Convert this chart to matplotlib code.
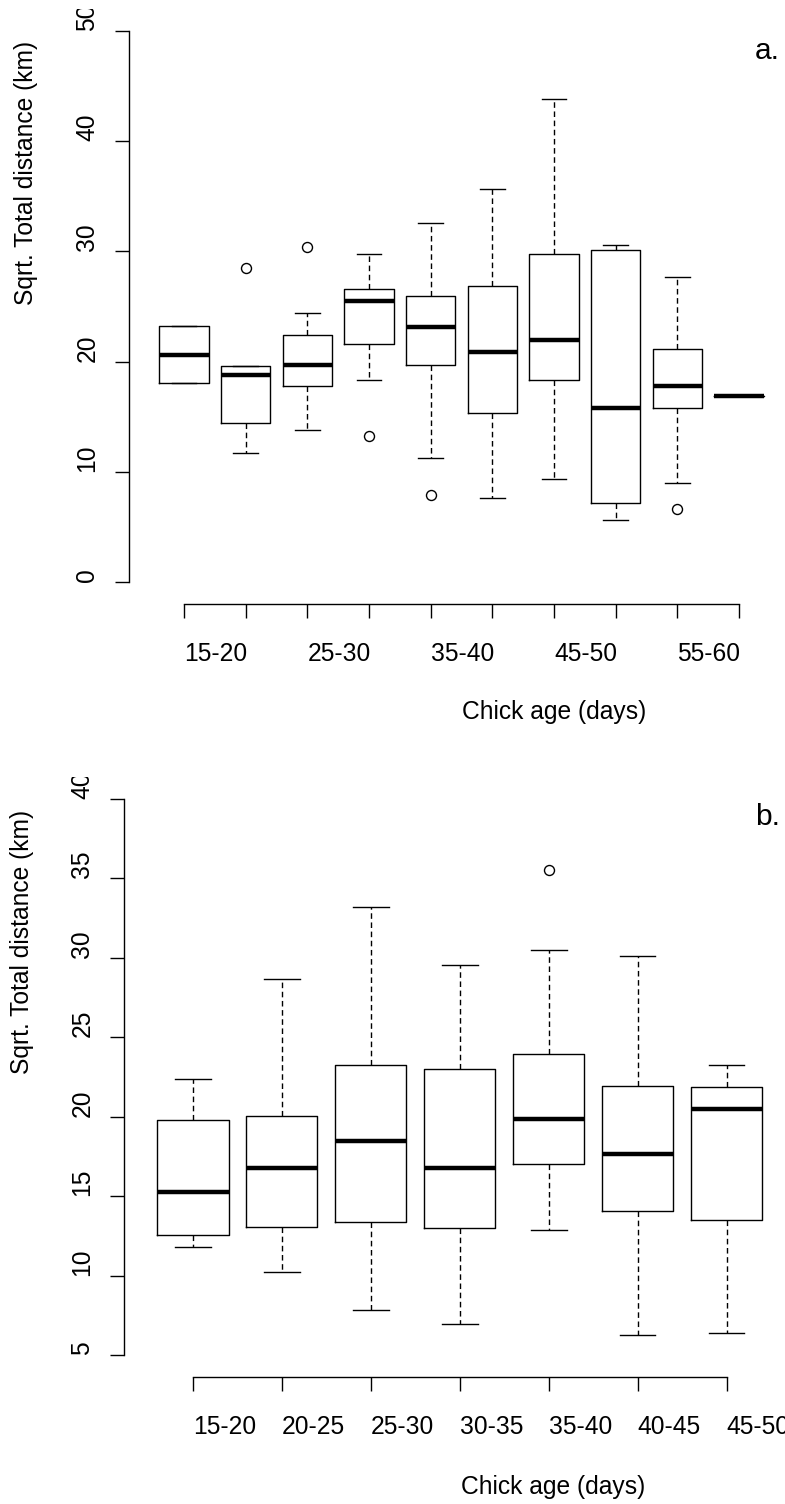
#!/usr/bin/env python3

import matplotlib
matplotlib.use('Agg')
import matplotlib.pyplot as plt
from matplotlib.transforms import Bbox, TransformedBbox

plt.rcParams['font.family'] = ['Liberation Sans', 'DejaVu Sans']

W, H = 785, 1504

# panel a: chick age groups (every other label is printed, as in R)
ages_a = ['15-20', '20-25', '25-30', '30-35', '35-40',
          '40-45', '45-50', '50-55', '55-60', '60-65']
whislo_a = [18.03, 11.73, 13.79, 18.36, 11.28, 7.62, 9.32, 5.63, 9.02, 16.9]
q1_a = [18.03, 14.40, 17.79, 21.60, 19.72, 15.37, 18.36, 7.20, 15.76, 16.9]
med_a = [20.57, 18.75, 19.72, 25.50, 23.11, 20.87, 21.99, 15.82, 17.76, 16.9]
q3_a = [23.26, 19.60, 22.39, 26.62, 25.92, 26.89, 29.73, 30.16, 21.14, 16.9]
whishi_a = [23.26, 19.60, 24.38, 29.73, 32.55, 35.63, 43.83, 30.58, 27.65, 16.9]
fliers_a = [[], [28.47], [30.43], [13.25], [7.89], [], [], [], [6.62], []]

# panel b
ages_b = ['15-20', '20-25', '25-30', '30-35', '35-40', '40-45', '45-50']
whislo_b = [11.82, 10.22, 7.83, 6.97, 12.88, 6.28, 6.39]
q1_b = [12.57, 13.07, 13.34, 12.99, 17.02, 14.06, 13.50]
med_b = [15.24, 16.80, 18.48, 16.80, 19.86, 17.63, 20.48]
q3_b = [19.77, 20.05, 23.23, 23.01, 23.92, 21.93, 21.85]
whishi_b = [22.35, 28.65, 33.22, 29.53, 30.49, 30.12, 23.23]
fliers_b = [[], [], [], [], [35.53], [], []]


def stats(lo, q1, med, q3, hi, fl):
    out = []
    for i in range(len(med)):
        out.append(dict(whislo=lo[i], q1=q1[i], med=med[i], q3=q3[i],
                        whishi=hi[i], fliers=fl[i]))
    return out


def panel(rect, st, labels, ylim, yticks, tag, tag_xy, xlab_xy, ylab_xy):
    ax = fig.add_axes([rect[0] / W, 1 - rect[3] / H,
                       (rect[2] - rect[0]) / W, (rect[3] - rect[1]) / H])
    n = len(st)
    pos = list(range(1, n + 1))
    ax.bxp(st, positions=pos, widths=0.8, capwidths=0.4, patch_artist=False,
           boxprops=dict(color='black', linewidth=1.0),
           whiskerprops=dict(color='black', linewidth=1.0,
                             linestyle=(0, (4, 2.6))),
           capprops=dict(color='black', linewidth=1.0),
           medianprops=dict(color='black', linewidth=3.2,
                            solid_capstyle='butt'),
           flierprops=dict(marker='o', markerfacecolor='none',
                           markeredgecolor='black', markersize=7.2,
                           markeredgewidth=1.0))
    span = n
    ax.set_xlim(0.5 - 0.04 * span, n + 0.5 + 0.04 * span)
    r = ylim[1] - ylim[0]
    ax.set_ylim(ylim[0] - 0.04 * r, ylim[1] + 0.04 * r)
    for s in ['top', 'right']:
        ax.spines[s].set_visible(False)
    ax.spines['left'].set_bounds(ylim[0], ylim[1])
    ax.spines['bottom'].set_bounds(1, n)
    for s in ['left', 'bottom']:
        ax.spines[s].set_linewidth(1.0)
    # labels start at the tick (R par(adj = 0))
    ax.set_xticks(pos)
    ax.set_xticklabels(labels, ha='left', fontsize=17.7)
    ax.set_yticks(yticks)
    ax.set_yticklabels([str(v) for v in yticks], fontsize=17.7,
                       rotation=90, va='bottom')
    ax.tick_params(axis='x', length=10, width=1.0, pad=17)
    ax.tick_params(axis='y', length=10, width=1.0, pad=11)
    clip = TransformedBbox(Bbox([[-1, 0], [2, 1]]), ax.transAxes)
    for t in ax.get_yticklabels():
        t.set_clip_on(True)
        t.set_clip_box(clip)
    fig.text(tag_xy[0] / W, 1 - tag_xy[1] / H, tag, fontsize=21.5,
             ha='center', va='center')
    fig.text(xlab_xy[0] / W, 1 - xlab_xy[1] / H, 'Chick age (days)',
             fontsize=17.7, ha='center', va='center')
    fig.text(ylab_xy[0] / W, 1 - ylab_xy[1] / H, 'Sqrt. Total distance (km)',
             fontsize=17.7, ha='center', va='center', rotation=90)
    return ax


fig = plt.figure(figsize=(W / 100, H / 100), dpi=100)

labels_a = [a if i % 2 == 0 else '' for i, a in enumerate(ages_a)]
panel((128.5, 9, 794.5, 604),
      stats(whislo_a, q1_a, med_a, q3_a, whishi_a, fliers_a),
      labels_a, (0, 50), [0, 10, 20, 30, 40, 50],
      'a.', (767, 51), (554, 712), (26, 173))

panel((123.6, 776.8, 796, 1377.2),
      stats(whislo_b, q1_b, med_b, q3_b, whishi_b, fliers_b),
      ages_b, (5, 40), [5, 10, 15, 20, 25, 30, 35, 40],
      'b.', (768, 817), (553, 1487), (22, 942))

fig.savefig('out.png', dpi=100)
